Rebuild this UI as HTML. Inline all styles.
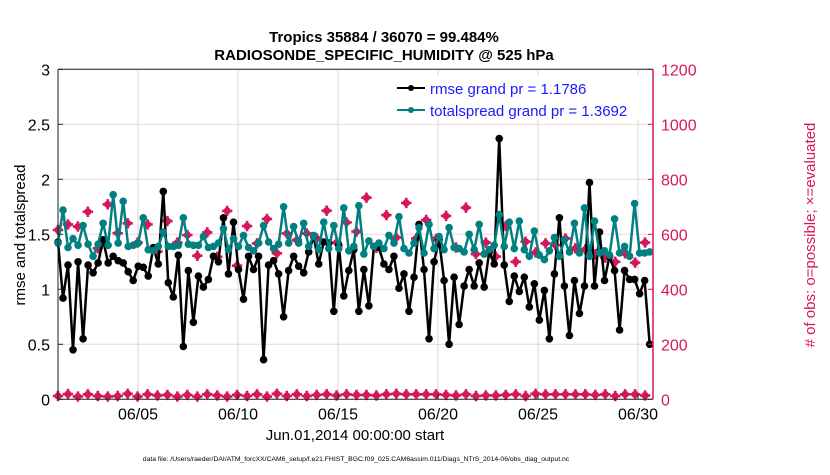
<!DOCTYPE html>
<html><head><meta charset="utf-8"><style>
body{margin:0;background:#fff;width:830px;height:470px;overflow:hidden}
svg{font-family:"Liberation Sans",sans-serif}
</style></head><body>
<svg id="chart" width="830" height="470" xmlns="http://www.w3.org/2000/svg">
<g id="grid"></g>
<g id="series"></g>
<g id="axes"></g>
<text x="384" y="42" text-anchor="middle" font-size="15" font-weight="bold">Tropics 35884 / 36070 = 99.484%</text>
<text x="384" y="60" text-anchor="middle" font-size="15" font-weight="bold">RADIOSONDE_SPECIFIC_HUMIDITY @ 525 hPa</text>
<text transform="translate(25,235) rotate(-90)" text-anchor="middle" font-size="15">rmse and totalspread</text>
<text transform="translate(815,235) rotate(-90)" text-anchor="middle" font-size="15" fill="#d6175a">#  of obs: o=possible; ×=evaluated</text>
<text x="355" y="440" text-anchor="middle" font-size="15">Jun.01,2014 00:00:00 start</text>
<text x="356" y="461" text-anchor="middle" font-size="6.8">data file: /Users/raeder/DAI/ATM_forcXX/CAM6_setup/f.e21.FHIST_BGC.f09_025.CAM6assim.011/Diags_NTrS_2014-06/obs_diag_output.nc</text>
<g id="legend">
<rect x="390" y="76" width="260" height="44" fill="#fff"/>
<line x1="397" y1="88" x2="425" y2="88" stroke="#000" stroke-width="2"/><circle cx="411" cy="88" r="3" fill="#000"/>
<text x="430" y="94" font-size="15" fill="#1a1aff">rmse grand pr = 1.1786</text>
<line x1="397" y1="110" x2="425" y2="110" stroke="#008080" stroke-width="2"/><circle cx="411" cy="110" r="3" fill="#008080"/>
<text x="430" y="116" font-size="15" fill="#1a1aff">totalspread grand pr = 1.3692</text>
</g>
</svg>
<script>
const rmse=[1.43,0.92,1.22,0.45,1.25,0.55,1.22,1.15,1.24,1.45,1.24,1.3,1.26,1.24,1.16,1.08,1.21,1.2,1.12,1.38,1.23,1.89,1.06,0.93,1.31,0.48,1.17,0.70,1.12,1.02,1.09,
1.30,1.25,1.65,1.14,1.61,1.18,0.91,1.30,1.18,1.30,0.36,1.22,1.26,1.14,0.75,1.17,1.30,1.21,1.15,1.34,1.48,1.23,1.43,1.42,0.80,1.40,0.94,1.17,1.36,0.80,
1.18,0.85,1.39,1.38,1.23,1.18,1.30,1.01,1.14,0.80,1.11,1.59,1.18,0.55,1.25,1.45,1.08,0.50,1.11,0.68,1.03,1.18,1.03,1.24,1.02,1.34,1.23,2.37,1.22,0.89,
1.12,0.98,1.11,0.84,1.05,0.72,0.99,0.55,1.14,1.65,1.03,0.58,1.08,0.78,1.03,1.97,1.03,1.52,1.08,1.3,1.17,0.63,1.17,1.09,1.09,0.96,1.08,0.50];
const spread=[1.42,1.72,1.38,1.46,1.40,1.58,1.41,1.30,1.41,1.60,1.40,1.86,1.42,1.80,1.39,1.40,1.42,1.65,1.36,1.35,1.39,1.52,1.39,1.39,1.40,1.65,1.41,1.40,1.40,1.48,1.38,
1.39,1.42,1.55,1.36,1.46,1.39,1.49,1.38,1.35,1.42,1.58,1.43,1.37,1.41,1.75,1.42,1.57,1.42,1.60,1.39,1.49,1.36,1.61,1.37,1.58,1.37,1.74,1.35,1.39,1.76,
1.32,1.44,1.39,1.42,1.37,1.49,1.42,1.66,1.37,1.33,1.42,1.56,1.33,1.59,1.37,1.48,1.36,1.56,1.38,1.37,1.34,1.50,1.36,1.59,1.32,1.36,1.40,1.68,1.39,
1.61,1.37,1.62,1.36,1.30,1.53,1.31,1.27,1.35,1.47,1.30,1.45,1.34,1.60,1.33,1.74,1.30,1.62,1.33,1.35,1.31,1.64,1.33,1.39,1.30,1.78,1.33,1.33,1.34];
const evaluated=[616,636,628,682,549,709,604,640,570,636,537,648,570,597,522,607,518,685,486,630,567,656,531,603,579,603,585,686,570,643,610,
733,551,670,588,714,585,652,583,667,552,697,528,570,519,630,500,573,534,567,561,585,549,545,527,515,500,531,497,570];
const possible=[12,19,10,18,12,10,12,20,10,18,14,16,10,16,10,18,14,10,16,12,18,10,20,12,18,12,16,18,14,18,16,16,14,18,20,18,18,18,18,16,14,18,12,14,14,16,18,12,20,18,18,18,18,18,16,18,12,18,18,14];
const yTicks=[0,0.5,1,1.5,2,2.5,3];
const yTickLabels=["0","0.5","1","1.5","2","2.5","3"];
const y2Ticks=[0,200,400,600,800,1000,1200];
const xTickDays=[4,9,14,19,24,29];
const xTickLabels=["06/05","06/10","06/15","06/20","06/25","06/30"];

const X0=58,X1=653,YB=399.3,YT=69.3;
const xs=d=>X0+d*20;
const ys=v=>YB-(v/3)*(YB-YT);
const ys2=v=>YB-(v/1200)*(YB-YT);
const NS='http://www.w3.org/2000/svg';
function mk(tag,attrs,parent){const e=document.createElementNS(NS,tag);for(const k in attrs)e.setAttribute(k,attrs[k]);parent.appendChild(e);return e;}
const grid=document.getElementById('grid'),series=document.getElementById('series'),axes=document.getElementById('axes');
yTicks.forEach((t,i)=>{const y=ys(t);
 const g=mk('line',{x1:X0,x2:X1,y1:y,y2:y,stroke:'#f3d3df','stroke-width':1},grid);
 
 
 const tl=mk('text',{x:X0-8,y:y+6,'text-anchor':'end','font-size':16},axes);tl.textContent=yTickLabels[i];
 
 
 mk('line',{x1:X0,x2:X0+5,y1:y,y2:y,stroke:'#222'},axes);
});
y2Ticks.forEach(t=>{const y=ys2(t);
 const tl=mk('text',{x:X1+8,y:y+6,'font-size':16,fill:'#d6175a'},axes);tl.textContent=t;
 
 
 mk('line',{x1:X1-5,x2:X1,y1:y,y2:y,stroke:'#d6175a'},axes);
});
xTickDays.forEach((d,i)=>{const x=xs(d);
 const g=mk('line',{x1:x,x2:x,y1:YT,y2:YB,stroke:'#d8d8d8','stroke-width':1},grid);
 
 
 mk('line',{x1:x,x2:x,y1:YB,y2:YB-5,stroke:'#222'},axes);
 const tl=mk('text',{x:x,y:YB+20,'text-anchor':'middle','font-size':16},axes);tl.textContent=xTickLabels[i];
 
 
});
mk('line',{x1:X0,x2:X0,y1:YT,y2:YB,stroke:'#222'},axes);
mk('line',{x1:X0,x2:X1,y1:YB,y2:YB,stroke:'#222'},axes);
mk('line',{x1:X0,x2:X1,y1:YT,y2:YT,stroke:'#222'},axes);
mk('line',{x1:X1,x2:X1,y1:YT,y2:YB,stroke:'#d6175a','stroke-width':1.5},axes);

function star(x,y,parent,name){
 const g=mk('g',{},parent);
 
 
 mk('circle',{cx:x,cy:y,r:3.6,fill:'#d6175a'},g);
 mk('path',{d:`M${x-5.2} ${y}L${x+5.2} ${y}M${x} ${y-5.2}L${x} ${y+5.2}`,stroke:'#d6175a','stroke-width':2.6},g);
}
evaluated.forEach((v,k)=>star(xs(k*0.4975),ys2(v),series,'evaluated-marker'));
possible.forEach((v,k)=>star(xs(k*0.4975),ys2(v),series,'possible-marker'));
function line(arr,color,name){
 const pts=arr.map((v,i)=>xs(i*0.2507).toFixed(1)+','+ys(v).toFixed(1)).join(' ');
 const pl=mk('polyline',{points:pts,fill:'none',stroke:color,'stroke-width':2.5,'stroke-linejoin':'round'},series);
 
 
 arr.forEach((v,i)=>{const c=mk('circle',{cx:xs(i*0.2507),cy:ys(v),r:3.8,fill:color},series);
  
  });
}
line(rmse,'#000','rmse');
line(spread,'#008080','totalspread');
series.parentNode.appendChild(document.getElementById('legend'));
</script>
</body></html>
